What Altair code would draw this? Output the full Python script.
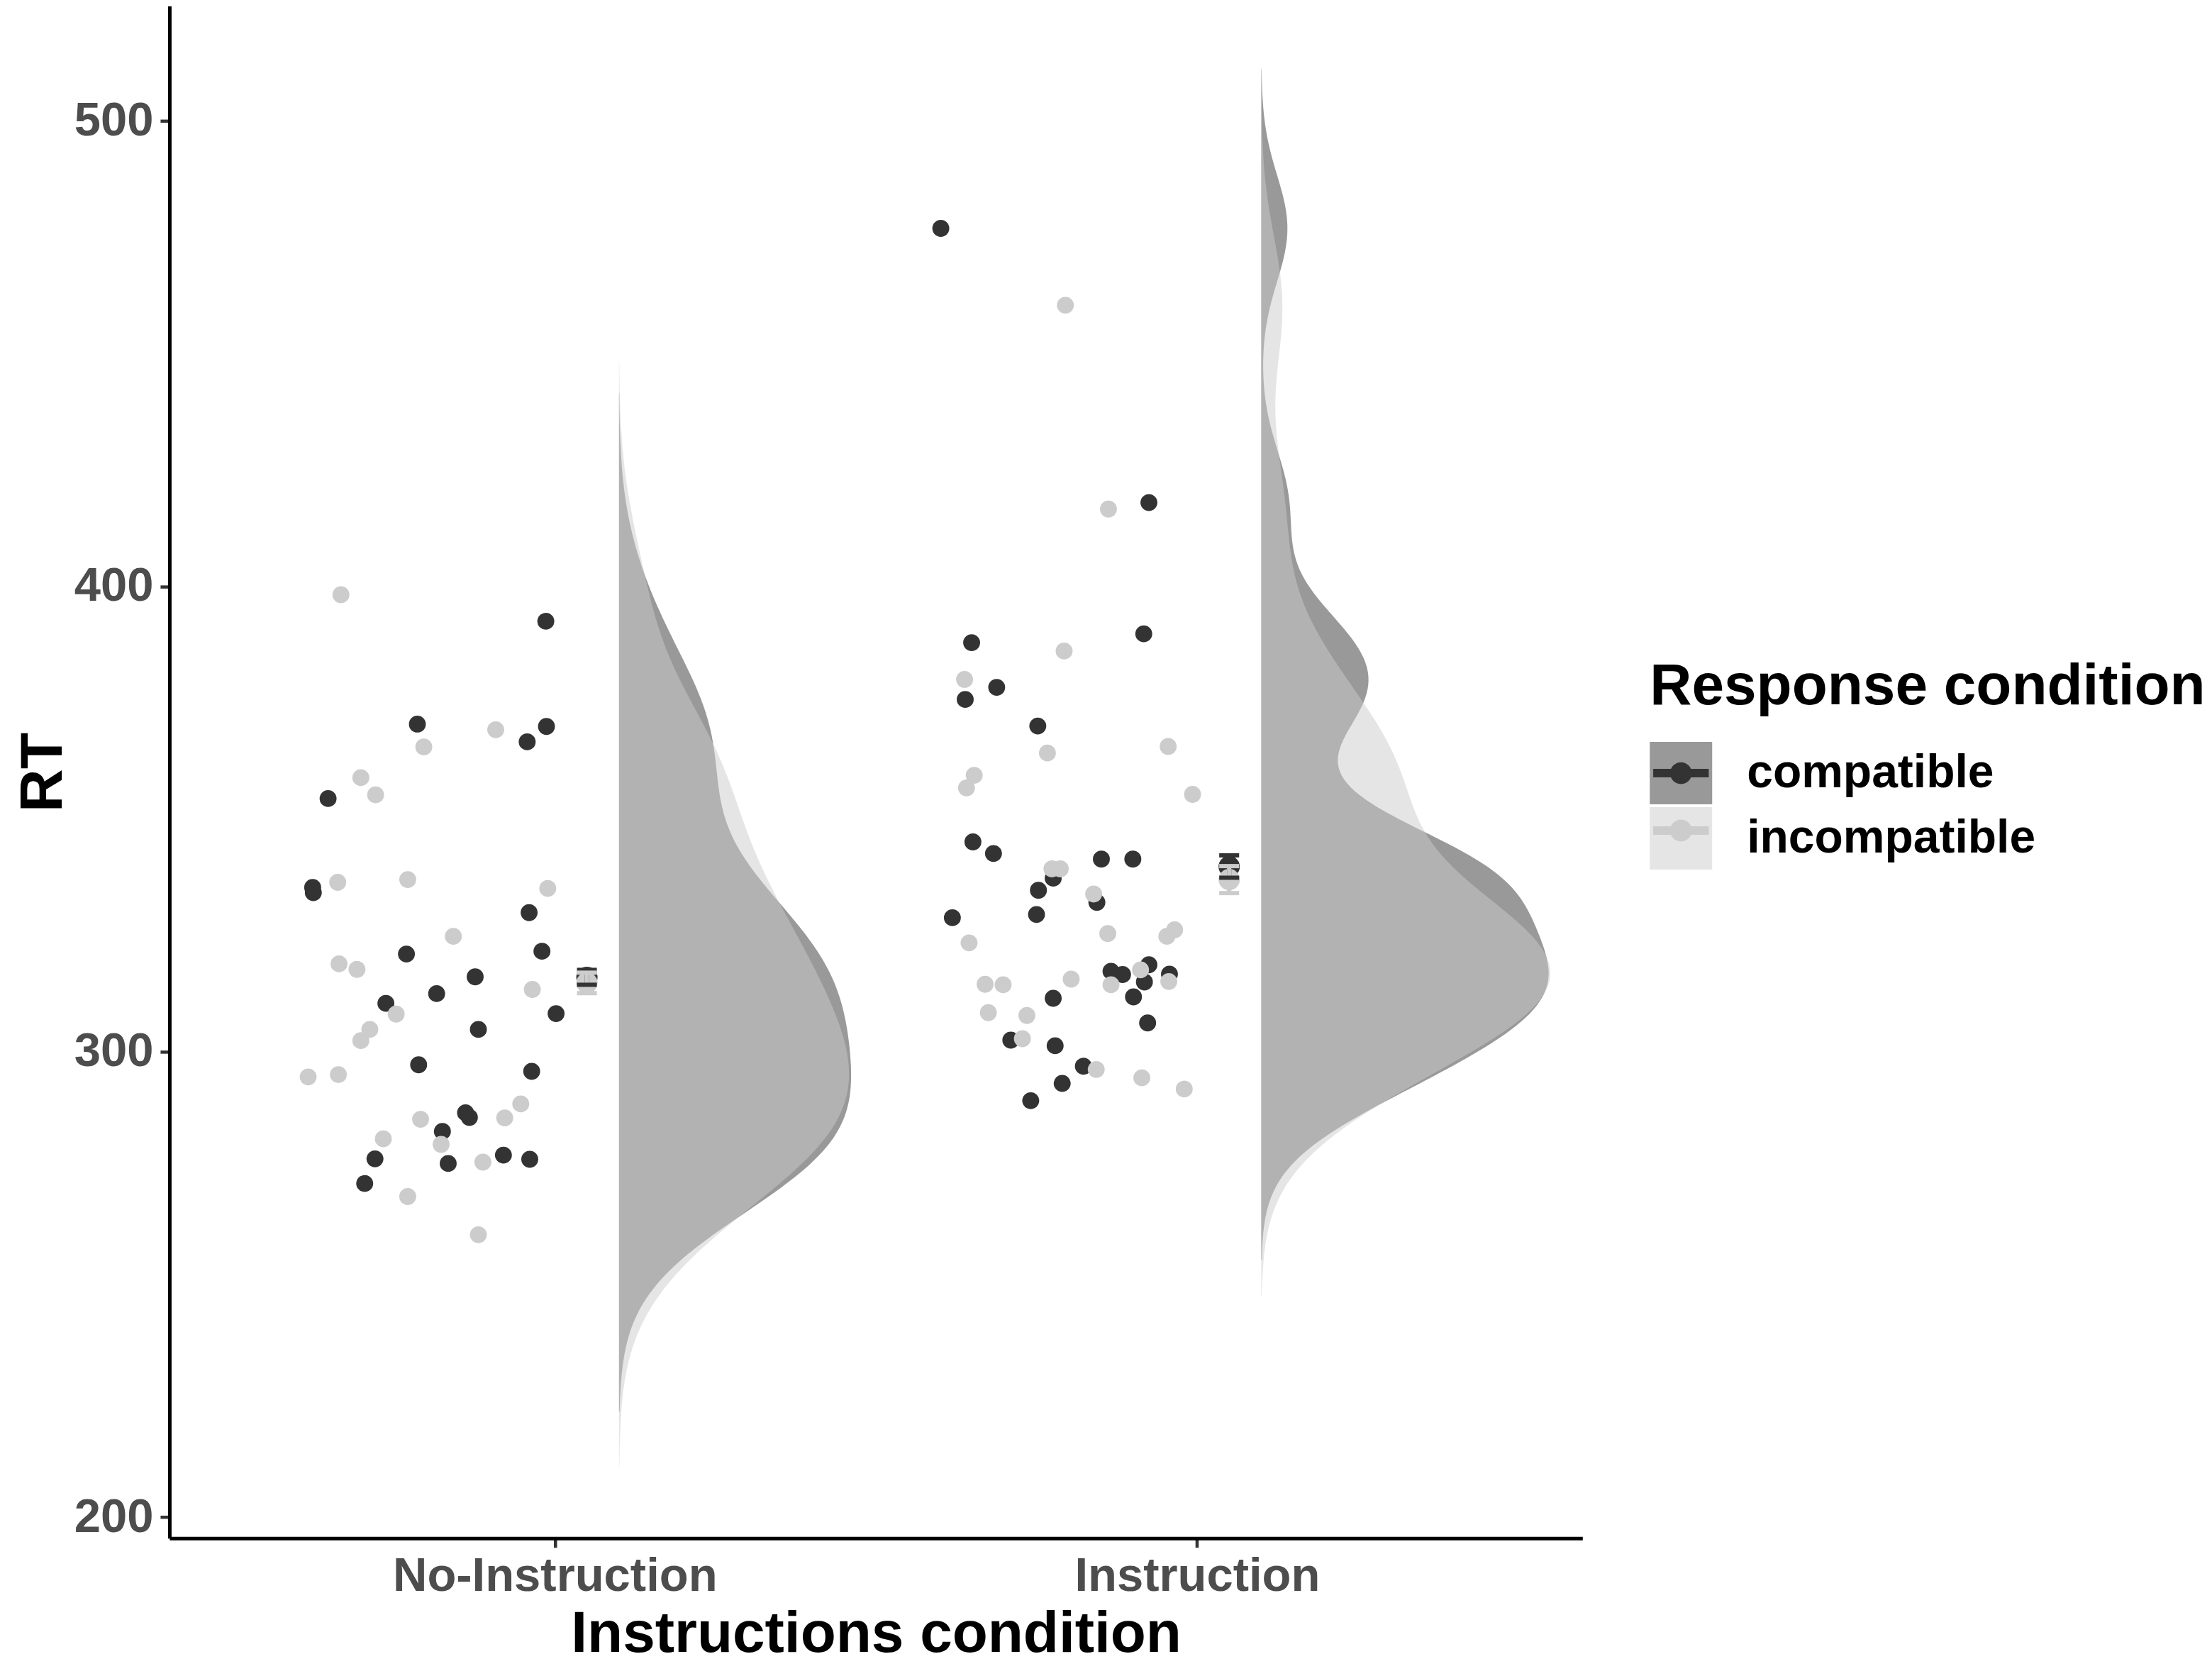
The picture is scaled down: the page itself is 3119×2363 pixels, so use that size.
import altair as alt
import numpy as np
import pandas as pd

FONT = "Liberation Sans"

conditions = ["No-Instruction", "Instruction"]
responses = ["compatible", "incompatible"]
cond_pos = [1, 2]

# raw RT values and their horizontal jitter offsets
ni_comp_rt = [392.5, 370.4, 369.9, 366.6, 354.4, 335.3, 334.2, 329.9, 321.0, 321.6, 316.1, 312.5, 310.4,
              308.2, 304.8, 297.2, 295.8, 286.9, 285.9, 282.9, 277.0, 276.0, 277.8, 276.9, 271.7]
ni_comp_jit = [-0.014, -0.214, -0.013, -0.043, -0.353, -0.377, -0.376, -0.040, -0.231, -0.020, -0.124, -0.184,
               -0.263, 0.002, -0.119, -0.212, -0.036, -0.139, -0.133, -0.175, -0.280, -0.166, -0.080, -0.039, -0.296]
ni_inc_rt = [398.2, 369.2, 365.5, 358.9, 355.2, 336.4, 337.0, 335.1, 324.8, 318.9, 317.7, 313.4, 308.1,
             304.8, 302.4, 294.6, 295.1, 288.8, 285.8, 285.5, 281.3, 280.1, 276.3, 268.9, 260.7]
ni_inc_jit = [-0.333, -0.092, -0.204, -0.302, -0.279, -0.338, -0.229, -0.011, -0.158, -0.336, -0.308, -0.035,
              -0.247, -0.288, -0.302, -0.384, -0.337, -0.053, -0.078, -0.209, -0.267, -0.177, -0.112, -0.229, -0.119]
in_comp_rt = [476.9, 418.0, 387.9, 389.8, 375.7, 378.3, 370.0, 345.1, 342.6, 341.4, 341.4, 337.3, 334.7, 332.1,
              329.5, 328.8, 317.3, 316.6, 318.7, 315.0, 316.7, 311.8, 311.5, 306.2, 302.5, 301.3, 296.9, 293.2, 289.5]
in_comp_jit = [-0.399, -0.075, -0.351, -0.083, -0.361, -0.312, -0.248, -0.349, -0.317, -0.149, -0.100, -0.224,
               -0.247, -0.156, -0.250, -0.381, -0.134, -0.116, -0.075, -0.082, -0.043, -0.099, -0.224, -0.077,
               -0.290, -0.221, -0.177, -0.210, -0.259]
in_inc_rt = [460.4, 416.6, 386.1, 380.0, 364.2, 365.6, 359.4, 356.7, 355.3, 339.3, 339.3, 333.9, 325.4, 323.4,
             326.2, 324.8, 314.5, 314.4, 315.6, 317.6, 314.4, 315.1, 308.4, 307.8, 302.8, 296.2, 294.4, 292.0]
in_inc_jit = [-0.205, -0.138, -0.207, -0.362, -0.233, -0.045, -0.347, -0.359, -0.007, -0.226, -0.213, -0.161,
              -0.139, -0.355, -0.035, -0.047, -0.330, -0.302, -0.196, -0.088, -0.134, -0.044, -0.325, -0.265,
              -0.272, -0.157, -0.086, -0.020]

# summary (mean +/- error)
sum_cond = ["No-Instruction", "No-Instruction", "Instruction", "Instruction"]
sum_resp = ["compatible", "incompatible", "compatible", "incompatible"]
sum_mean = [316.0, 314.8, 339.8, 337.0]
sum_err = [1.6, 2.2, 2.4, 2.9]

fill_colors = ["#333333", "#cccccc"]

groups = [
    (conditions[0], responses[0], ni_comp_rt, ni_comp_jit),
    (conditions[1], responses[0], in_comp_rt, in_comp_jit),
    (conditions[0], responses[1], ni_inc_rt, ni_inc_jit),
    (conditions[1], responses[1], in_inc_rt, in_inc_jit),
]
pos_of = dict(zip(conditions, cond_pos))

rows = []
for cond, resp, rts, jits in groups:
    for v, j in zip(rts, jits):
        rows.append({"cond": cond, "resp": resp, "Response": resp, "rt": v, "jit": j, "pos": pos_of[cond]})
df = pd.DataFrame(rows)

sdf = pd.DataFrame({"cond": sum_cond, "Response": sum_resp, "m": sum_mean, "e": sum_err,
                    "pos": [pos_of[c] for c in sum_cond]})


def nrd0(x):
    x = np.asarray(x, float)
    sd = x.std(ddof=1)
    q75, q25 = np.percentile(x, [75, 25])
    return 0.9 * min(sd, (q75 - q25) / 1.34) * len(x) ** -0.2


def kde_max(x, bw, lo, hi):
    x = np.asarray(x, float)
    g = np.linspace(lo, hi, 512)
    d = np.exp(-0.5 * ((g[:, None] - x[None, :]) / bw) ** 2).sum(1) / (len(x) * bw * np.sqrt(2 * np.pi))
    return d.max()


ginfo = []
for cond, resp, rts, jits in groups:
    bw = nrd0(rts)
    lo, hi = min(rts) - 3 * bw, max(rts) + 3 * bw
    ginfo.append((cond, resp, bw, lo, hi, kde_max(rts, bw, lo, hi)))
K = 0.45 / max(g[5] for g in ginfo)

xscale = alt.Scale(domain=[0.4, 2.6], nice=False, zero=False)
yscale = alt.Scale(domain=[195.5, 524.7], nice=False, zero=False)

label_expr = f"datum.value == {cond_pos[0]} ? '{conditions[0]}' : '{conditions[1]}'"

xaxis = alt.Axis(values=cond_pos, labelExpr=label_expr, title="Instructions condition", grid=False,
                 domainColor="black", domainWidth=5, tickColor="#333333", tickWidth=4.5, tickSize=13,
                 labelFont=FONT, labelFontSize=67, labelFontWeight="bold", labelColor="#4d4d4d", labelPadding=8,
                 labelLimit=0, titleLimit=0,
                 titleFont=FONT, titleFontSize=82, titleFontWeight="bold", titleColor="black", titlePadding=8)
yaxis = alt.Axis(values=[200, 300, 400, 500], title="RT", grid=False,
                 domainColor="black", domainWidth=5, tickColor="#333333", tickWidth=4.5, tickSize=13,
                 labelFont=FONT, labelFontSize=67, labelFontWeight="bold", labelColor="#4d4d4d", labelPadding=10,
                 labelLimit=0, titleLimit=0,
                 titleFont=FONT, titleFontSize=84, titleFontWeight="bold", titleColor="black", titlePadding=0)

LEG_X, LEG_Y = 2088, 920
TITLE_PAD = 36
fill_legend = alt.Legend(title="Response condition", orient="none", legendX=LEG_X, legendY=LEG_Y,
                         symbolType="square", symbolSize=7744, symbolOpacity=0.5, symbolStrokeWidth=0,
                         labelFont=FONT, labelFontSize=66, labelFontWeight="bold", labelColor="black",
                         labelOffset=49, labelLimit=0, titleLimit=0,
                         titleFont=FONT, titleFontSize=82, titleFontWeight="bold",
                         titleColor="black", titlePadding=TITLE_PAD, rowPadding=4)
pt_path = ("M-0.89,-0.135L0.89,-0.135L0.89,0.135L-0.89,0.135Z "
           "M-0.35,0A0.35,0.35 0 1,1 0.35,0A0.35,0.35 0 1,1 -0.35,0Z")
# second legend (point glyphs) laid over the fill legend; its texts are blank
color_legend = alt.Legend(title=" ", orient="none", legendX=LEG_X, legendY=LEG_Y,
                          symbolType=pt_path, symbolSize=7744, symbolOpacity=1, symbolStrokeWidth=0,
                          labelFont=FONT, labelFontSize=66, labelFontWeight="bold", labelExpr="' '",
                          labelOffset=49, labelLimit=0, titleLimit=0,
                          titleFont=FONT, titleFontSize=82, titleFontWeight="bold",
                          titlePadding=TITLE_PAD, rowPadding=4)

base = alt.Chart(df)

layers = []
for cond, resp, bw, lo, hi, _ in ginfo:
    layers.append(
        base.transform_filter((alt.datum.cond == cond) & (alt.datum.resp == resp))
        .transform_density("rt", as_=["rt", "density"], groupby=["cond", "resp", "pos"],
                           bandwidth=float(bw), extent=[float(lo), float(hi)], steps=300)
        .transform_calculate(xb="datum.pos + 0.1", xr=f"datum.pos + 0.1 + datum.density * {K}")
        .mark_area(orient="horizontal", opacity=0.5, strokeWidth=0)
        .encode(
            y=alt.Y("rt:Q", scale=yscale, axis=yaxis),
            x=alt.X("xr:Q", scale=xscale, axis=xaxis, stack=None),
            x2="xb:Q",
            fill=alt.Fill("resp:N", scale=alt.Scale(range=fill_colors), legend=fill_legend),
        )
    )

points = (
    base.transform_calculate(jx="datum.pos + datum.jit")
    .mark_circle(size=570, opacity=1)
    .encode(
        x=alt.X("jx:Q", scale=xscale, axis=xaxis),
        y=alt.Y("rt:Q", scale=yscale, axis=yaxis),
        color=alt.Color("Response:N", scale=alt.Scale(range=fill_colors), legend=color_legend),
    )
)
layers.append(points)

sbase = alt.Chart(sdf).transform_calculate(
    xc="datum.pos + 0.05", xl="datum.pos + 0.05 - 0.0155", xh="datum.pos + 0.05 + 0.0155",
    lo="datum.m - datum.e", hi="datum.m + datum.e")
scol = alt.Color("Response:N", scale=alt.Scale(range=fill_colors), legend=None)

layers.append(sbase.mark_circle(size=900, opacity=1).encode(
    x=alt.X("xc:Q", scale=xscale, axis=xaxis), y=alt.Y("m:Q", scale=yscale, axis=yaxis), color=scol))
layers.append(sbase.mark_rule(strokeWidth=6).encode(
    x=alt.X("xc:Q", scale=xscale, axis=xaxis), y=alt.Y("lo:Q", scale=yscale, axis=yaxis), y2="hi:Q", color=scol))
for yf in ["hi", "lo"]:
    layers.append(sbase.mark_rule(strokeWidth=6).encode(
        x=alt.X("xl:Q", scale=xscale, axis=xaxis), x2="xh:Q",
        y=alt.Y(f"{yf}:Q", scale=yscale, axis=yaxis), color=scol))

chart = (
    alt.layer(*layers)
    .properties(width=1993, height=2161, background="white",
                autosize=alt.AutoSizeParams(type="none"),
                padding={"left": 231, "top": 0, "right": 880, "bottom": 190})
    .configure_view(stroke="transparent", strokeWidth=0)
)

chart.save("out.html", embed_options={"renderer": "svg", "actions": False})
